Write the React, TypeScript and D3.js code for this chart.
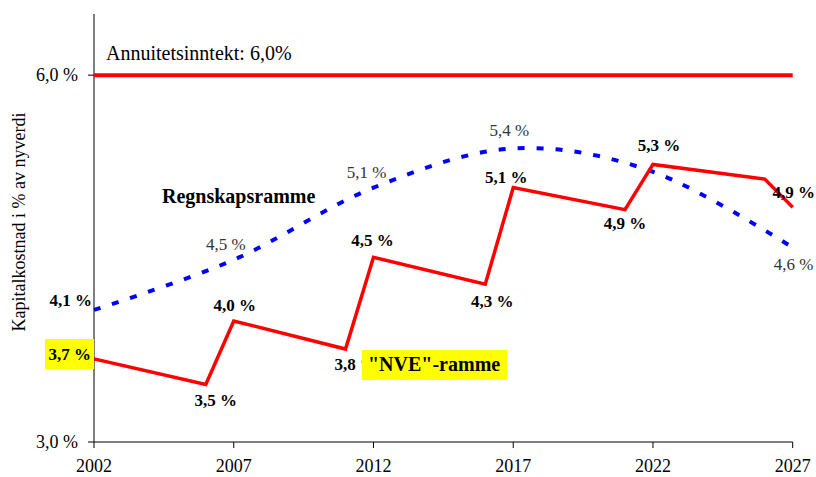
import React from "react";
import * as d3 from "d3";

// ---- data ----
const nveYears = [2002, 2006, 2007, 2011, 2012, 2016, 2017, 2021, 2022, 2026, 2027];
const nveValues = [3.68, 3.47, 3.99, 3.76, 4.51, 4.29, 5.08, 4.9, 5.27, 5.15, 4.92];
const nveLabels = ["3,7 %", "3,5 %", "4,0 %", "3,8 %", "4,5 %", "4,3 %", "5,1 %", "4,9 %", "5,3 %", "", "4,9 %"];

const regYears = [2002, 2007, 2012, 2017, 2022, 2027];
const regValues = [4.08, 4.49, 5.08, 5.4, 5.21, 4.59];
const regLabels = ["4,1 %", "4,5 %", "5,1 %", "5,4 %", "", "4,6 %"];

const annuityValue = 6.0;
const annuityText = "Annuitetsinntekt: 6,0%";
const yTicks = [3.0, 6.0];
const yTickLabels = ["3,0 %", "6,0 %"];
const xTicks = [2002, 2007, 2012, 2017, 2022, 2027];
const yTitle = "Kapitalkostnad i % av nyverdi";

// label offsets (style)
const nveOffsets: [number, number, string][] = [
  [-3, 1, "end"], [10, 21, "middle"], [1, -10, "middle"], [-11, 21, "start"],
  [-1, -11, "middle"], [7, 23, "middle"], [-7, -5, "middle"], [0, 19, "middle"],
  [6, -13, "middle"], [0, 0, "middle"], [1, -9, "middle"],
];
const regOffsets: [number, number, string][] = [
  [-2, -4, "end"], [-8, -10, "middle"], [-7, -10, "middle"], [-4, -13, "middle"],
  [0, 0, "middle"], [1, 22, "middle"],
];

const W = 816, H = 477;
const FONT = "Liberation Serif, Tinos, Times New Roman, DejaVu Serif, serif";

export default function App() {
  const x = d3.scaleLinear().domain([2002, 2027]).range([94, 792.7]);
  const y = d3.scaleLinear().domain([3.0, 6.5]).range([442, 14]);

  const nveLine = d3
    .line<number>()
    .x((_, i) => x(nveYears[i]))
    .y((d) => y(d))(nveValues) as string;

  const regLine = d3
    .line<number>()
    .x((_, i) => x(regYears[i]))
    .y((d) => y(d))
    .curve(d3.curveCatmullRom.alpha(0))(regValues) as string;

  const [x0, x1] = x.range();
  const [yb, yt] = y.range();

  return (
    <svg
      width={W}
      height={H}
      style={{ position: "absolute", left: 0, top: 0, background: "#fff", fontFamily: FONT }}
    >
      {/* axes */}
      <line x1={x0} x2={x0} y1={yt} y2={yb} stroke="#000" strokeWidth={1} />
      <line x1={x0} x2={x1} y1={yb} y2={yb} stroke="#000" strokeWidth={1} />
      {yTicks.map((t, i) => (
        <g key={"yt" + i}>
          <line x1={x0 - 6} x2={x0} y1={y(t)} y2={y(t)} stroke="#000" />
          <text x={78} y={y(t) + 6} fontSize={18} textAnchor="end" fill="#000">
            {yTickLabels[i]}
          </text>
        </g>
      ))}
      {xTicks.map((t) => (
        <g key={"xt" + t}>
          <line x1={x(t)} x2={x(t)} y1={yb} y2={yb + 6} stroke="#000" />
          <text x={x(t)} y={472} fontSize={18} textAnchor="middle" fill="#000">
            {t}
          </text>
        </g>
      ))}
      <text
        transform={`translate(25,${222}) rotate(-90)`}
        fontSize={18}
        textAnchor="middle"
        fill="#000"
      >
        {yTitle}
      </text>

      {/* annuity line */}
      <line x1={x0} x2={x1} y1={y(annuityValue)} y2={y(annuityValue)} stroke="#ff0000" strokeWidth={4} />
      <text x={106} y={y(annuityValue) - 15} fontSize={20} fill="#000">
        {annuityText}
      </text>

      {/* Regnskapsramme */}
      <path d={regLine} fill="none" stroke="#0000ff" strokeWidth={4} strokeDasharray="7 12" />
      {/* NVE */}
      <path d={nveLine} fill="none" stroke="#ff0000" strokeWidth={3.5} strokeLinejoin="miter" />

      {/* 3,7 % yellow box */}
      <rect x={45} y={339} width={49} height={30} fill="#ffff00" />

      {nveLabels.map((l, i) =>
        l ? (
          <text
            key={"nl" + i}
            x={x(nveYears[i]) + nveOffsets[i][0]}
            y={y(nveValues[i]) + nveOffsets[i][1]}
            textAnchor={nveOffsets[i][2] as any}
            fontSize={17}
            fontWeight="bold"
            fill="#000"
          >
            {l}
          </text>
        ) : null
      )}
      {regLabels.map((l, i) =>
        l ? (
          <text
            key={"rl" + i}
            x={x(regYears[i]) + regOffsets[i][0]}
            y={y(regValues[i]) + regOffsets[i][1]}
            textAnchor={regOffsets[i][2] as any}
            fontSize={17}
            fontWeight={i === 0 ? "bold" : "normal"}
            fill={i === 0 ? "#000" : "#333"}
          >
            {l}
          </text>
        ) : null
      )}

      <text x={162} y={203} fontSize={20} fontWeight="bold" fill="#000">
        Regnskapsramme
      </text>

      {/* NVE-ramme box */}
      <rect x={362} y={350} width={145} height={30} fill="#ffff00" />
      <text x={368} y={371} fontSize={20} fontWeight="bold" fill="#000">
        "NVE"-ramme
      </text>
    </svg>
  );
}
